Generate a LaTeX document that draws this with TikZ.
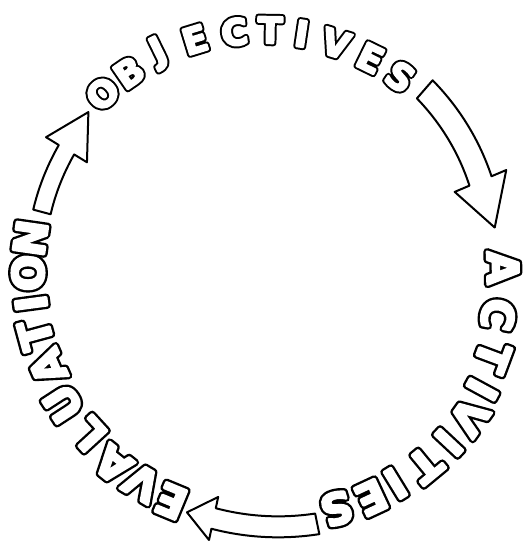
\documentclass[tikz,border=0pt]{standalone}
\usepackage{fontspec}
\font\hfOk="DejaVu Sans Bold:embolden=17" at 36pt
\font\hfOw="DejaVu Sans Bold:embolden=6" at 36pt
\font\hfAk="DejaVu Sans Bold:embolden=17" at 43pt
\font\hfAw="DejaVu Sans Bold:embolden=6" at 43pt
\newcommand\lt[3]{\special{pdf:code 1 j}\rlap{#1\color{black}#3}{#2\color{white}#3}}
\newcommand\cyc[8]{%
  \draw[arrowshape] plot[domain=#1:#2, samples=30] (\x:{#4+#7+(#5-#4)*(\x-#1)/(#2-#1)})
    -- (#2:{#5+#8}) -- (#3:#6) -- (#2:{#5-#8})
    -- plot[domain=#2:#1, samples=30] (\x:{#4-#7+(#5-#4)*(\x-#1)/(#2-#1)}) -- cycle;}
\tikzset{
  arrowshape/.style={draw=black, fill=white, line width=2pt, line join=round},
  letter/.style={inner sep=0pt, anchor=center},
}
\begin{document}
\begin{tikzpicture}[x=1pt, y=1pt]
\useasboundingbox (0,0) rectangle (524,544);
\begin{scope}[shift={(266,272)}]
\coordinate (c) at (0,0);
% OBJECTIVES
\foreach \ch/\a/\r [count=\i] in {O/132.5/242,B/124.5/242,J/116/244,E/107/243,C/97.5/242,T/89/242,I/81.5/241,V/73/239,E/64/238,S/55.5/237}
  \node[letter, rotate=\a-90] (obj\i) at (\a:\r) {\lt{\hfOk}{\hfOw}{\ch}};
% ACTIVITIES
\foreach \ch/\a/\r [count=\i] in {A/1/237,C/-10.4/236,T/-20.5/242,I/-28.5/246,V/-35.5/250,I/-43/250,T/-50.5/250,I/-58.5/248,E/-65/249,S/-73.4/247}
  \node[letter, rotate=\a-90] (act\i) at (\a:\r) {\lt{\hfAk}{\hfAw}{\ch}};
% EVALUATION
\foreach \ch/\a/\r [count=\i] in {E/247.5/248,V/239.5/245,A/231.5/246,L/222.5/240,U/213/242,A/203.5/238,T/195.2/239,I/187.6/237,O/180.2/238,N/171.8/238}
  \node[letter, rotate=\a-90] (eva\i) at (\a:\r) {\lt{\hfAk}{\hfAw}{\ch}};
% arrows (tail angle, head-base angle, tip angle, r tail, r head, r tip, half width, half head)
\cyc{49}{23}{11}{242}{233}{233}{12}{28}
\cyc{281.5}{258}{251.8}{257}{252}{253}{10.5}{22}
\cyc{165}{148.5}{138}{232}{234}{239}{9}{24}
\end{scope}
\end{tikzpicture}
\end{document}
